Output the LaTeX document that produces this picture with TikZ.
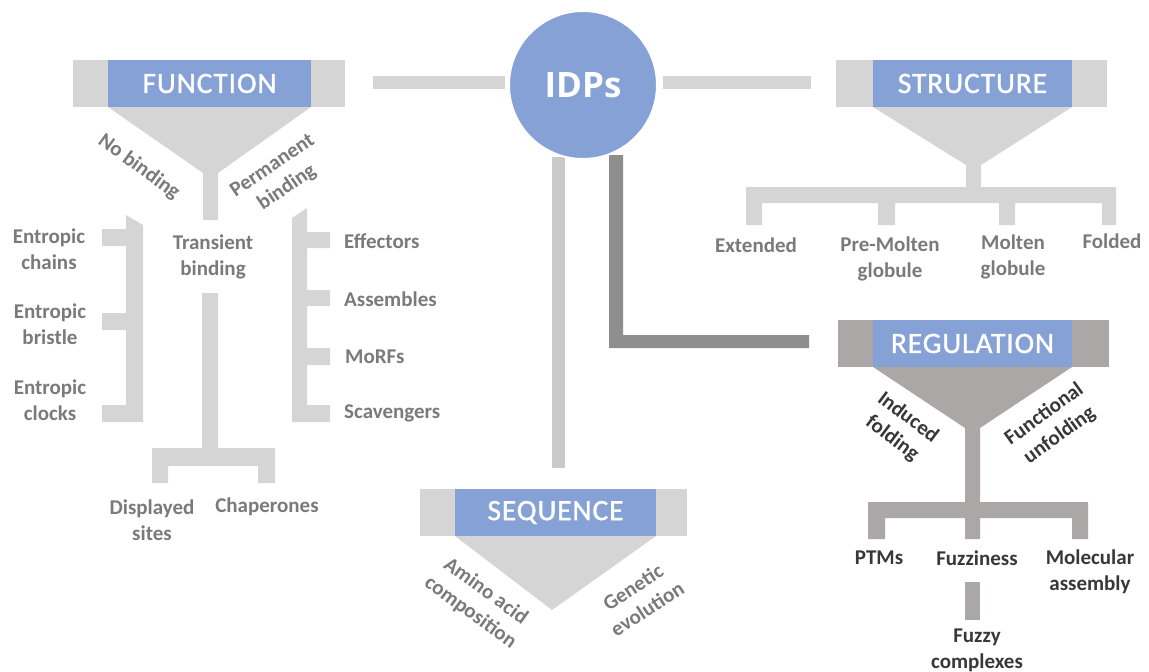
\documentclass[tikz,border=0pt]{standalone}
\usepackage{fontspec}
\setmainfont{Carlito}
\newfontfamily\idpfont{Open Sans}
\newfontfamily\hdrfont[FakeBold=1.2,LetterSpace=3]{Carlito}
\definecolor{lg}{HTML}{D5D5D5}
\definecolor{bl}{HTML}{85A1D5}
\definecolor{rg}{HTML}{ABA7A6}
\definecolor{dk}{HTML}{8E8E8E}
\definecolor{sq}{HTML}{C9C9C9}
\definecolor{tx}{HTML}{7A7A7A}
\definecolor{rt}{HTML}{383838}
\begin{document}
\begin{tikzpicture}[x=1pt,y=-1pt,
  lab/.style={font=\bfseries\fontsize{21}{26}\selectfont, text=tx, align=center, inner sep=0pt},
  rlab/.style={lab, text=rt},
  hdr/.style={fill=bl, text=white, inner sep=0pt, minimum height=47pt,
    font=\hdrfont\fontsize{29.5}{30}\selectfont},
  conn/.style={line width=13pt}]
\useasboundingbox (0,0) rectangle (1149,672);

% connectors from IDPs
\coordinate (cl1) at (373,82.5); \coordinate (cl2) at (505,82.5);
\coordinate (cr1) at (663,82.5); \coordinate (cr2) at (811,82.5);
\coordinate (cs1) at (558.5,157); \coordinate (cs2) at (558.5,468);
\draw[conn, lg] (cl1) -- (cl2);
\draw[conn, lg] (cr1) -- (cr2);
\draw[conn, sq] (cs1) -- (cs2);
\fill[dk] (609,155) -- (623,155) -- (623,335) -- (809,335) -- (809,348) -- (609,348) -- cycle;

% IDPs
\node[circle, fill=bl, draw=white, line width=2pt, minimum size=148pt, inner sep=0pt,
  text=white, font=\idpfont\bfseries\fontsize{35}{40}\selectfont] (idp) at (583,85) {IDPs};

% FUNCTION
\fill[lg] (73,60) rectangle (345,107);
\fill[lg] (108,107) -- (311,107) -- (218,173) -- (218,220) -- (203,220) -- (203,173) -- cycle;
\node[hdr, minimum width=203pt] (fun) at (209.5,83.5) {FUNCTION};
\fill[lg] (126,215) -- (143,225) -- (143,422) -- (102,422) -- (102,405) -- (126,405) -- (126,330)
  -- (102,330) -- (102,313) -- (126,313) -- (126,246) -- (102,246) -- (102,229) -- (126,229) -- cycle;
\fill[lg] (292,218) -- (307,208) -- (307,232) -- (330,232) -- (330,248) -- (307,248) -- (307,290)
  -- (330,290) -- (330,306) -- (307,306) -- (307,348) -- (330,348) -- (330,365) -- (307,365)
  -- (307,405) -- (330,405) -- (330,422) -- (292,422) -- cycle;
\fill[lg] (202,293) -- (218,293) -- (218,448) -- (275,448) -- (275,483) -- (258,483) -- (258,466)
  -- (168,466) -- (168,483) -- (152,483) -- (152,448) -- (202,448) -- cycle;
\node[lab, rotate=-36] (nob) at (139,167) {No binding};
\node[lab, rotate=34] (perm) at (280,177) {Permanent\\binding};
\node[lab] (ech) at (49,249.5) {Entropic\\chains};
\node[lab] (ebr) at (50,324.5) {Entropic\\bristle};
\node[lab] (ecl) at (50,400) {Entropic\\clocks};
\node[lab] (trb) at (213,256.5) {Transient\\binding};
\node[lab, anchor=west] (eff) at (344,241) {Effectors};
\node[lab, anchor=west] (ass) at (344,299) {Assembles};
\node[lab, anchor=west] (mor) at (345,357) {MoRFs};
\node[lab, anchor=west] (sca) at (344,413) {Scavengers};
\node[lab] (dis) at (152,520) {Displayed\\sites};
\node[lab] (cha) at (267,507) {Chaperones};

% STRUCTURE
\fill[lg] (836,60) rectangle (1107,107);
\fill[lg] (873,107) -- (1072,107) -- (981,165) -- (981,187) -- (1116,187) -- (1116,225) -- (1102,225)
  -- (1102,203) -- (1015,203) -- (1015,225) -- (999,225) -- (999,203) -- (895,203) -- (895,225)
  -- (878,225) -- (878,203) -- (762,203) -- (762,225) -- (746,225) -- (746,187) -- (966,187)
  -- (966,165) -- cycle;
\node[hdr, minimum width=199pt] (str) at (972.5,83.5) {STRUCTURE};
\node[lab] (ext) at (756,245) {Extended};
\node[lab] (pmg) at (890,258.5) {Pre-Molten\\globule};
\node[lab] (mg) at (1013,257) {Molten\\globule};
\node[lab] (fol) at (1112,241) {Folded};

% REGULATION
\fill[rg] (838,320) rectangle (1109,367);
\fill[rg] (873,367) -- (1072,367) -- (980,428) -- (980,502) -- (1088,502) -- (1088,539) -- (1072,539)
  -- (1072,518) -- (980,518) -- (980,539) -- (965,539) -- (965,518) -- (885,518) -- (885,539)
  -- (868,539) -- (868,502) -- (965,502) -- (965,428) -- cycle;
\fill[rg] (965,582) rectangle (980,620);
\node[hdr, minimum width=199pt] (reg) at (972.5,343.5) {REGULATION};
\node[rlab, rotate=-37] (ind) at (900,428) {Induced\\folding};
\node[rlab, rotate=36] (fun2) at (1052,425) {Functional\\unfolding};
\node[rlab] (ptm) at (879,558) {PTMs};
\node[rlab] (fuz) at (977,558) {Fuzziness};
\node[rlab] (mol) at (1090,572) {Molecular\\assembly};
\node[rlab] (fzc) at (977,650) {Fuzzy\\complexes};

% SEQUENCE
\fill[lg] (420,489) rectangle (687,536);
\fill[lg] (455,536) -- (656,536) -- (552,610) -- cycle;
\node[hdr, minimum width=201pt] (seq) at (555.5,512.5) {SEQUENCE};
\node[lab, rotate=-36] (ami) at (478,602) {Amino acid\\composition};
\node[lab, rotate=33] (gen) at (640,598) {Genetic\\evolution};
\end{tikzpicture}
\end{document}
